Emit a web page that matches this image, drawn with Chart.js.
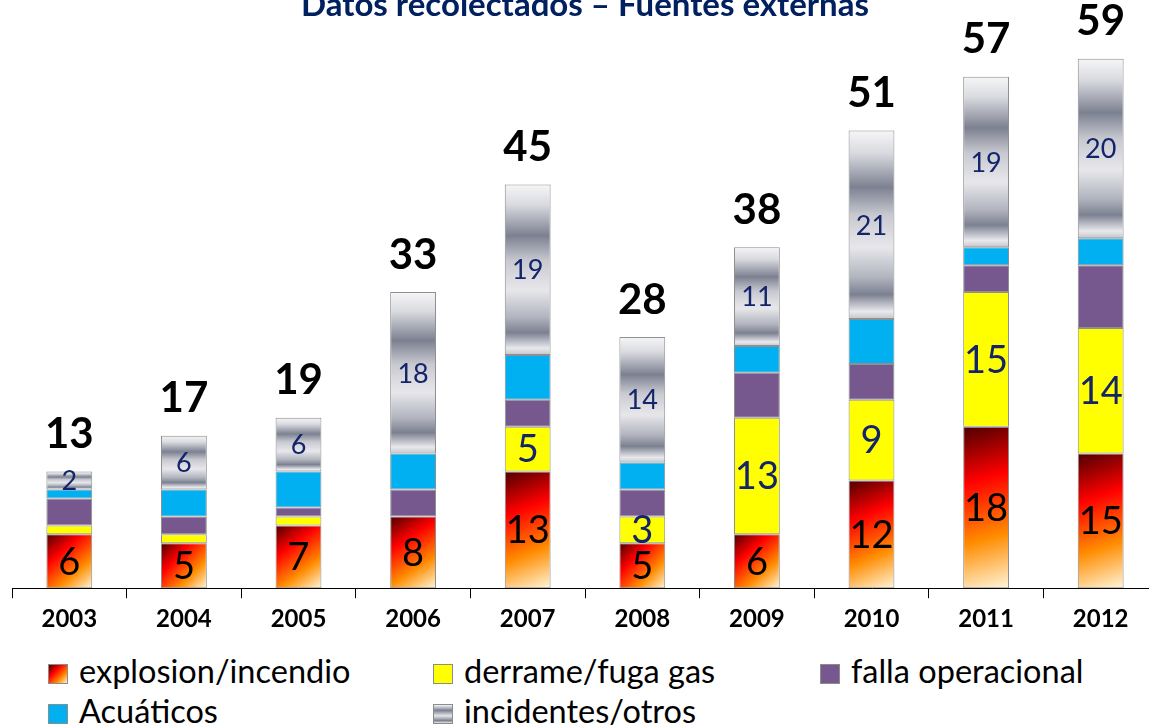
<!DOCTYPE html>
<html lang="es">
<head>
    <meta charset="UTF-8">
    <title>Datos recolectados – Fuentes externas</title>
    <style>
        body {
            margin: 0;
            padding: 0;
            background: #fff;
            width: 1149px;
            height: 727px;
            overflow: hidden;
            position: relative;
            font-family: Lato, "Open Sans", sans-serif;
        }
        .chart-box {
            position: absolute;
            left: 0;
            top: 0;
            width: 1160px;
            height: 650px;
        }
        .legend-item {
            position: absolute;
            font-size: 32.5px;
            line-height: 38px;
            color: #000;
            white-space: nowrap;
        }
        .legend-item i {
            display: inline-block;
            width: 18px;
            height: 18px;
            border: 1px solid #8c8c8c;
            margin-right: 11px;
            vertical-align: -1px;
        }
    </style>
    <script src="https://cdn.jsdelivr.net/npm/chart.js"></script>
</head>
<body>

<div class="chart-box"><canvas id="chart"></canvas></div>

<div class="legend-item" style="left:48px; top:652px;"><i style="background:linear-gradient(135deg,#4d0000,#ff0000 35%,#ff8c00 70%,#fff5d6)"></i>explosion/incendio</div>
<div class="legend-item" style="left:433px; top:652px;"><i style="background:#ffff00"></i>derrame/fuga gas</div>
<div class="legend-item" style="left:820px; top:652px;"><i style="background:#76588f"></i>falla operacional</div>
<div class="legend-item" style="left:48px; top:692px;"><i style="background:#00b0f0"></i>Acuáticos</div>
<div class="legend-item" style="left:433px; top:692px;"><i style="background:linear-gradient(#f5f5f7,#7c8191 30%,#e6e6ea 60%,#7c8191 87%,#e8e8ec)"></i>incidentes/otros</div>

<script>
    // Data
    const years = ['2003', '2004', '2005', '2006', '2007', '2008', '2009', '2010', '2011', '2012'];
    const explosion = [6, 5, 7, 8, 13, 5, 6, 12, 18, 15];
    const derrame = [1, 1, 1, 0, 5, 3, 13, 9, 15, 14];
    const falla = [3, 2, 1, 3, 3, 3, 5, 4, 3, 7];
    const acuaticos = [1, 3, 4, 4, 5, 3, 3, 5, 2, 3];
    const incidentes = [2, 6, 6, 18, 19, 14, 11, 21, 19, 20];
    const totals = [13, 17, 19, 33, 45, 28, 38, 51, 57, 59];

    const series = [explosion, derrame, falla, acuaticos, incidentes];

    const fireStops = [[0, '#4d0000'], [0.33, '#ff0000'], [0.68, '#ff8c00'], [1, '#fff6da']];
    const metalStops = [[0, '#f6f6f8'], [0.12, '#d9dadf'], [0.3, '#7c8191'], [0.45, '#c9cad1'],
                        [0.62, '#e7e7eb'], [0.78, '#b1b4be'], [0.87, '#7c8191'], [0.96, '#e9e9ed'], [1, '#c3c5cc']];

    // bar segment edges in pixels
    function segBounds(chart, d, i) {
        const y = chart.scales.y, x = chart.scales.x;
        let base = 0;
        for (let k = 0; k < d; k++) base += series[k][i];
        const xc = x.getPixelForValue(i);
        const half = x.width / years.length * 0.4 / 2;
        return {
            left: xc - half, right: xc + half,
            top: y.getPixelForValue(base + series[d][i]),
            bottom: y.getPixelForValue(base)
        };
    }

    function gradientFill(stops, diagonal, fallback) {
        return function (ctx) {
            const chart = ctx.chart;
            if (ctx.type !== 'data' || !chart.scales.y || !chart.chartArea) return fallback;
            const b = segBounds(chart, ctx.datasetIndex, ctx.dataIndex);
            if (!isFinite(b.top) || b.bottom - b.top < 1) return fallback;
            const g = diagonal
                ? chart.ctx.createLinearGradient(b.left, b.top, b.right, b.bottom)
                : chart.ctx.createLinearGradient(0, b.top, 0, b.bottom);
            stops.forEach(s => g.addColorStop(s[0], s[1]));
            return g;
        };
    }

    const valueLabels = {
        id: 'valueLabels',
        afterDatasetsDraw(chart) {
            const c = chart.ctx;
            c.save();
            c.textAlign = 'center';
            c.textBaseline = 'middle';
            years.forEach((yr, i) => {
                const xc = chart.scales.x.getPixelForValue(i);
                // explosion
                let b = segBounds(chart, 0, i);
                c.font = '38px Lato';
                c.fillStyle = '#000';
                c.fillText(explosion[i], xc, (b.top + b.bottom) / 2 + 1);
                // derrame
                if (derrame[i] >= 3) {
                    b = segBounds(chart, 1, i);
                    c.fillStyle = '#13246a';
                    c.fillText(derrame[i], xc, (b.top + b.bottom) / 2 + 1);
                }
                // incidentes
                b = segBounds(chart, 4, i);
                c.font = '27px Lato';
                c.fillStyle = '#13246a';
                c.fillText(incidentes[i], xc, (b.top + b.bottom) / 2 + 1);
                // total
                c.font = 'bold 42px Lato';
                c.fillStyle = '#000';
                c.fillText(totals[i], xc, b.top - 37);
            });
            // title, cut off at the top like the original
            c.font = 'bold 33px Lato';
            c.fillStyle = '#002060';
            c.textBaseline = 'alphabetic';
            c.fillText('Datos recolectados – Fuentes externas', 585, 16);
            c.restore();
        }
    };

    const border = { borderColor: '#8f8f8f', borderWidth: 1, borderSkipped: false };

    new Chart(document.getElementById('chart'), {
        type: 'bar',
        data: {
            labels: years,
            datasets: [
                { label: 'explosion/incendio', data: explosion, backgroundColor: gradientFill(fireStops, true, '#ff0000'), ...border },
                { label: 'derrame/fuga gas', data: derrame, backgroundColor: '#ffff00', ...border },
                { label: 'falla operacional', data: falla, backgroundColor: '#76588f', ...border },
                { label: 'Acuáticos', data: acuaticos, backgroundColor: '#00b0f0', ...border },
                { label: 'incidentes/otros', data: incidentes, backgroundColor: gradientFill(metalStops, false, '#b0b3bd'), ...border }
            ]
        },
        options: {
            responsive: true,
            maintainAspectRatio: false,
            animation: false,
            categoryPercentage: 1,
            barPercentage: 0.4,
            layout: { padding: { left: 12, right: 2, top: 5, bottom: 9 } },
            plugins: {
                legend: { display: false },
                title: { display: false },
                tooltip: { enabled: false }
            },
            scales: {
                x: {
                    stacked: true,
                    grid: { display: true, drawOnChartArea: false, color: '#000', tickLength: 10, offset: true },
                    border: { display: true, color: '#000', width: 1 },
                    ticks: { color: '#000', font: { family: 'Lato', size: 24, weight: 'bold' }, padding: 7 }
                },
                y: {
                    stacked: true,
                    display: false,
                    min: 0,
                    max: 65
                }
            }
        },
        plugins: [valueLabels]
    });
</script>

</body>
</html>
